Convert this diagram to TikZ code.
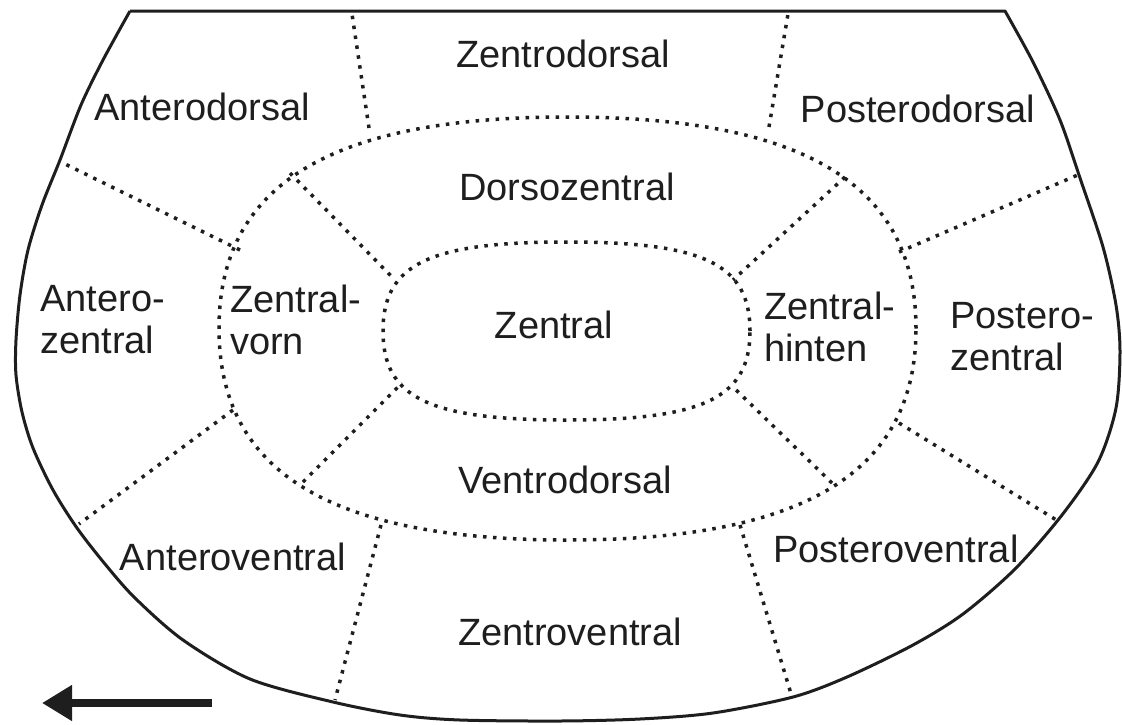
\documentclass[tikz,border=0pt]{standalone}
\usepackage{fontspec}
\setmainfont{Liberation Sans}
\usetikzlibrary{arrows.meta}
\definecolor{ink}{HTML}{1E1E1E}
\tikzset{
  outerline/.style={draw=ink, line width=3pt, line join=round},
  dotline/.style={draw=ink, line width=3.5pt, dash pattern=on 3.5pt off 6.5pt},
  lbl/.style={text=ink, inner sep=0pt, font=\fontsize{38}{42}\selectfont},
  mlbl/.style={lbl, align=left, anchor=base west},
}
\begin{document}
\begin{tikzpicture}[x=1pt,y=-1pt]
\useasboundingbox (0,0) rectangle (1122,724);
% outer boundary
\draw[outerline] (130,11) -- (1005,11) -- plot[smooth, tension=0.5] coordinates {(1005,11) (1033,62) (1060,120) (1080,178) (1103,247) (1116,305) (1120,351) (1116,408) (1098,462) (1062,515) (1015,569) (963,614) (913,645) (847,677) (793,697) (713,713) (640,719) (560,721) (460,720) (400,715) (333,702) (250,679) (183,640) (135,598) (105,564) (77,528) (53,490) (33,448) (22,412) (16,375) (16,340) (20,295) (28,250) (42,205) (60,160) (81,105) (103,60) (130,11)};
% ring and inner loop
\draw[dotline] (916,328.5) .. controls (916,184.7) and (804.5,117) .. (567.5,117) .. controls (330.5,117) and (219,184.7) .. (219,328.5) .. controls (219,472.3) and (330.5,540) .. (567.5,540) .. controls (804.5,540) and (916,472.3) .. (916,328.5);
\draw[dotline] (750,331) .. controls (750,264.25) and (704.1,242) .. (566.5,242) .. controls (428.9,242) and (383,264.25) .. (383,331) .. controls (383,397.75) and (428.9,420) .. (566.5,420) .. controls (704.1,420) and (750,397.75) .. (750,331);
% divider end points
\coordinate (tlA) at (369,128); \coordinate (tlB) at (352,14);
\coordinate (trA) at (769,127); \coordinate (trB) at (788,14);
\coordinate (luA) at (240,250); \coordinate (luB) at (61,162);
\coordinate (llA) at (233,410); \coordinate (llB) at (79,524);
\coordinate (ruA) at (899,252); \coordinate (ruB) at (1080,174);
\coordinate (rlA) at (899,423); \coordinate (rlB) at (1058,521);
\coordinate (blA) at (381,525); \coordinate (blB) at (335,700);
\coordinate (brA) at (740,525); \coordinate (brB) at (792,697);
\coordinate (iulA) at (290,173); \coordinate (iulB) at (393,278);
\coordinate (iurA) at (845,177); \coordinate (iurB) at (733,280);
\coordinate (illA) at (303,482); \coordinate (illB) at (402,383);
\coordinate (ilrA) at (832,483); \coordinate (ilrB) at (733,387);
\foreach \a/\b in {tlA/tlB, trA/trB, luA/luB, llA/llB, ruA/ruB, rlA/rlB, blA/blB, brA/brB, iulA/iulB, iurA/iurB, illA/illB, ilrA/ilrB}
  \draw[dotline] (\a) -- (\b);
% labels
\node[lbl, anchor=base] (zd) at (563,67) {Zentrodorsal};
\node[lbl, anchor=base] (ad) at (202,120) {Anterodorsal};
\node[lbl, anchor=base] (pd) at (918,122) {Posterodorsal};
\node[lbl, anchor=base] (dz) at (567,200) {Dorsozentral};
\node[lbl, anchor=base] (z) at (554,338) {Zentral};
\node[lbl, anchor=base] (vd) at (565,493) {Ventrodorsal};
\node[lbl, anchor=base] (zv) at (570,645) {Zentroventral};
\node[lbl, anchor=base] (av) at (233,570) {Anteroventral};
\node[lbl, anchor=base] (pv) at (896,562) {Posteroventral};
\node[mlbl] (az) at (40,353) {Antero-\\zentral};
\node[mlbl] (zvo) at (230,354) {Zentral-\\vorn};
\node[mlbl] (zh) at (764,361) {Zentral-\\hinten};
\node[mlbl] (pz) at (950,370) {Postero-\\zentral};
% arrow
\coordinate (arS) at (212,703);
\coordinate (arE) at (42,703);
\draw[draw=ink, line width=8pt, -{Triangle[length=30pt,width=34pt]}] (arS) -- (arE);
\end{tikzpicture}
\end{document}
